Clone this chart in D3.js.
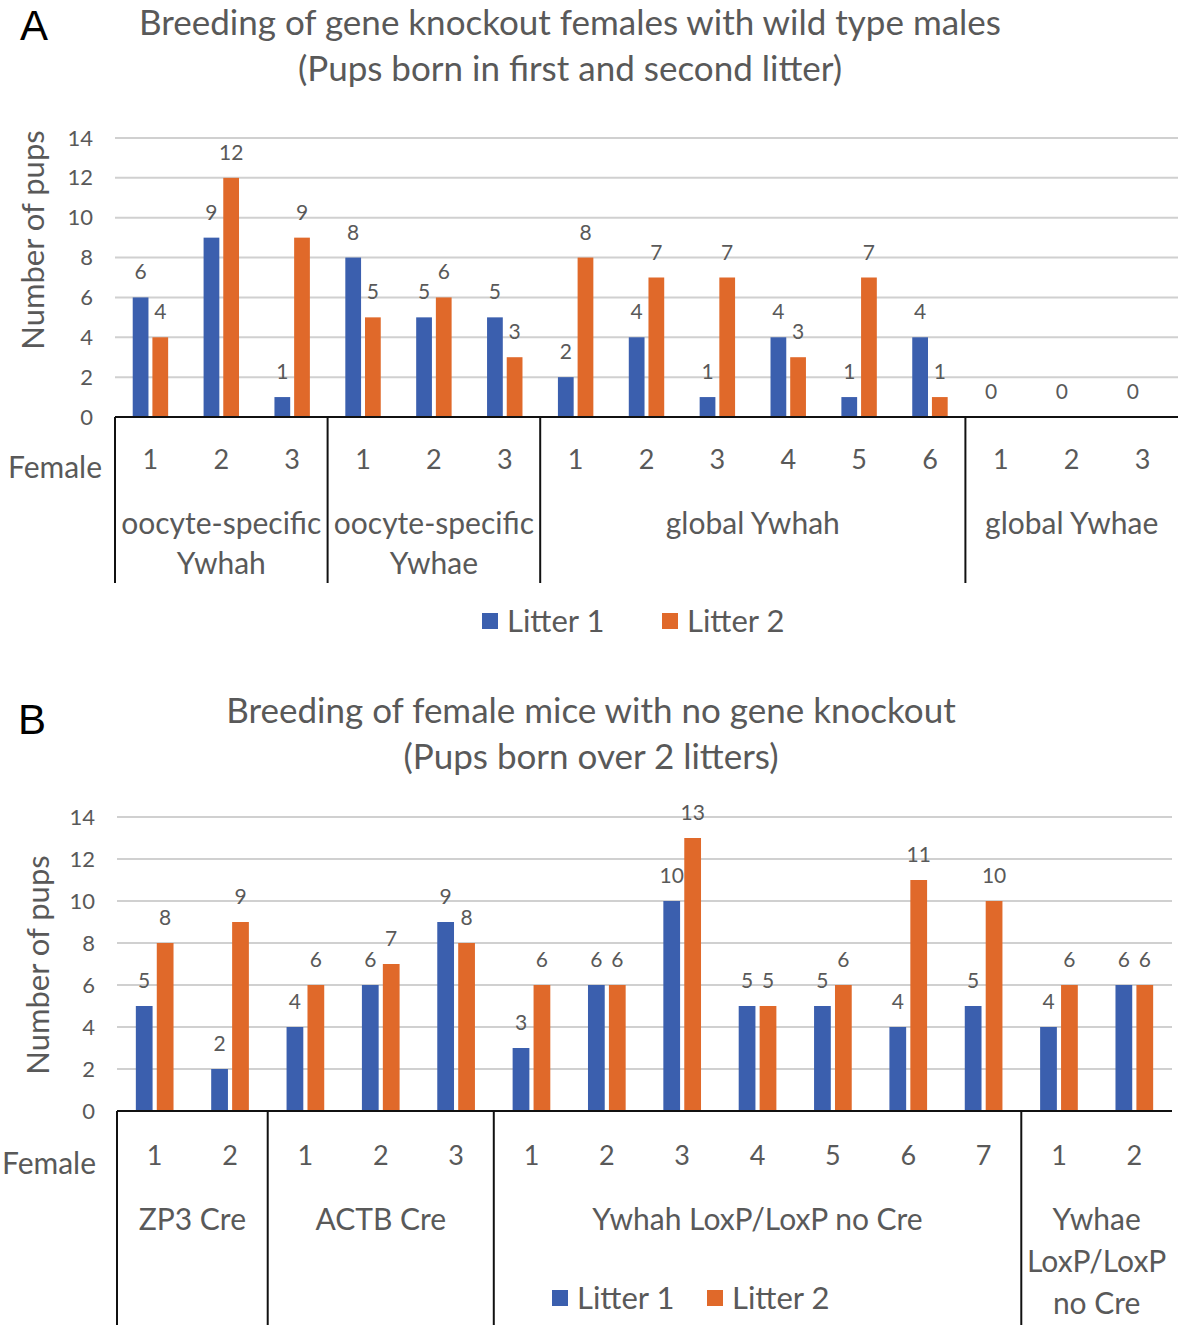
<!DOCTYPE html>
<html>
<head>
<meta charset="utf-8"/>
<title>Breeding of knockout females</title>
<script src="https://cdn.jsdelivr.net/npm/d3@7"></script>
<style>
  body, html {margin:0;padding:0;background:#fff;}
  svg text {font-family: Lato, "Open Sans", sans-serif; fill:#595959;}
</style>
</head>
<body>
<svg id="chart" width="1181" height="1328"></svg>
<script>
// panel A data
var femalesA = ["1","2","3","1","2","3","1","2","3","4","5","6","1","2","3"];
var litter1A = [6, 9, 1, 8, 5, 5, 2, 4, 1, 4, 1, 4, 0, 0, 0];
var litter2A = [4, 12, 9, 5, 6, 3, 8, 7, 7, 3, 7, 1, 0, 0, 0];
var groupsA = [["oocyte-specific","Ywhah"], ["oocyte-specific","Ywhae"], ["global Ywhah"], ["global Ywhae"]];
var groupSizesA = [3, 3, 6, 3];

// panel B data
var femalesB = ["1","2","1","2","3","1","2","3","4","5","6","7","1","2"];
var litter1B = [5, 2, 4, 6, 9, 3, 6, 10, 5, 5, 4, 5, 4, 6];
var litter2B = [8, 9, 6, 7, 8, 6, 6, 13, 5, 6, 11, 10, 6, 6];
var groupsB = [["ZP3 Cre"], ["ACTB Cre"], ["Ywhah LoxP/LoxP no Cre"], ["Ywhae","LoxP/LoxP","no Cre"]];
var groupSizesB = [2, 3, 7, 2];

var yTicks = [0, 2, 4, 6, 8, 10, 12, 14];
var seriesNames = ["Litter 1", "Litter 2"];
var colors = ["#3b5fae", "#e0692a"];

var svg = d3.select("#chart");

function drawPanel(p) {
  var g = svg.append("g");
  var n = p.females.length;

  var x0 = d3.scaleBand().domain(d3.range(n)).range([p.left, p.right]).padding(0);
  var bw = x0.bandwidth();
  var x1 = d3.scaleBand().domain([0, 1]).range([bw * 0.25, bw * 0.75]).paddingInner(0.2);
  var y = d3.scaleLinear().domain([0, 14]).range([p.bottom, p.top]);

  // letter + title
  g.append("text").attr("x", p.letterX).attr("y", p.letterY)
    .style("font-family", "Liberation Sans, Arial, sans-serif")
    .style("fill", "#000").style("font-size", "42px").text(p.letter);
  p.title.forEach(function (t, i) {
    g.append("text").attr("x", p.titleX).attr("y", p.titleY + i * 46)
      .attr("text-anchor", "middle").style("font-size", "35px").text(t);
  });

  // grid lines
  g.append("g").selectAll("line").data(yTicks.slice(1)).join("line")
    .attr("x1", p.left).attr("x2", p.right)
    .attr("y1", d => y(d)).attr("y2", d => y(d))
    .attr("stroke", "#d0d0d0").attr("stroke-width", 2);

  // y axis labels
  var ax = g.append("g").attr("transform", "translate(" + (p.left - 22) + ",0)")
    .call(d3.axisLeft(y).tickValues(yTicks).tickSize(0).tickPadding(0));
  ax.select(".domain").remove();
  ax.selectAll("text").style("font-size", "22px").style("fill", "#595959")
    .style("font-family", "Lato, sans-serif");

  g.append("text")
    .attr("transform", "translate(" + p.yLabelX + "," + p.yLabelY + ") rotate(-90)")
    .attr("text-anchor", "middle").attr("dy", "0.35em")
    .style("font-size", "31px").text("Number of pups");

  // bars
  var series = [p.l1, p.l2];
  series.forEach(function (vals, s) {
    g.append("g").selectAll("rect").data(vals).join("rect")
      .attr("x", (d, i) => x0(i) + x1(s))
      .attr("width", x1.bandwidth())
      .attr("y", d => y(d))
      .attr("height", d => y(0) - y(d))
      .attr("fill", colors[s]);
    g.append("g").selectAll("text").data(vals).join("text")
      .filter(d => !(s === 1 && d === 0))
      .attr("x", (d, i) => x0(i) + x1(s) + x1.bandwidth() / 2)
      .attr("y", d => y(d) - 18)
      .attr("text-anchor", "middle")
      .style("font-size", "21px")
      .text(d => d);
  });

  // x axis line
  g.append("line").attr("x1", p.left).attr("x2", p.right)
    .attr("y1", p.bottom).attr("y2", p.bottom)
    .attr("stroke", "#111").attr("stroke-width", 2);

  // female numbers
  g.append("g").selectAll("text").data(p.females).join("text")
    .attr("x", (d, i) => x0(i) + bw / 2)
    .attr("y", p.numY).attr("dy", "0.35em")
    .attr("text-anchor", "middle").style("font-size", "27px")
    .text(d => d);
  g.append("text").attr("x", p.femaleX).attr("y", p.numY + 7).attr("dy", "0.35em")
    .style("font-size", "30px").text("Female");

  // group separators and labels
  var bounds = [0];
  p.groupSizes.forEach(function (s) { bounds.push(bounds[bounds.length - 1] + s); });
  g.append("g").selectAll("line").data(bounds.slice(0, -1)).join("line")
    .attr("x1", d => x0(d)).attr("x2", d => x0(d))
    .attr("y1", p.bottom).attr("y2", p.sepBottom)
    .attr("stroke", "#111").attr("stroke-width", 2);

  p.groups.forEach(function (lines, gi) {
    var a = bounds[gi], b = bounds[gi + 1];
    var cx = (x0(a) + (b < n ? x0(b) : p.right)) / 2;
    lines.forEach(function (t, li) {
      g.append("text").attr("x", cx).attr("y", p.groupY + li * p.groupDy)
        .attr("dy", "0.35em").attr("text-anchor", "middle")
        .style("font-size", "30px").text(t);
    });
  });

  // legend
  seriesNames.forEach(function (name, s) {
    var lx = p.legendX[s];
    g.append("rect").attr("x", lx).attr("y", p.legendY - 8).attr("width", 16).attr("height", 16)
      .attr("fill", colors[s]);
    g.append("text").attr("x", lx + 25).attr("y", p.legendY).attr("dy", "0.35em")
      .style("font-size", "31px").text(name);
  });
}

drawPanel({
  letter: "A", letterX: 20, letterY: 40,
  title: ["Breeding of gene knockout females with wild type males", "(Pups born in first and second litter)"],
  titleX: 570, titleY: 35,
  females: femalesA, l1: litter1A, l2: litter2A,
  groups: groupsA, groupSizes: groupSizesA,
  left: 115, right: 1178, top: 138, bottom: 417,
  yLabelX: 33, yLabelY: 240, numY: 460, femaleX: 8, groupY: 523, groupDy: 40,
  sepBottom: 583,
  legendX: [482, 662], legendY: 621
});

drawPanel({
  letter: "B", letterX: 18, letterY: 734,
  title: ["Breeding of female mice with no gene knockout", "(Pups born over 2 litters)"],
  titleX: 591, titleY: 723,
  females: femalesB, l1: litter1B, l2: litter2B,
  groups: groupsB, groupSizes: groupSizesB,
  left: 117, right: 1172, top: 817, bottom: 1111,
  yLabelX: 38, yLabelY: 965, numY: 1156, femaleX: 2, groupY: 1219, groupDy: 42,
  sepBottom: 1325,
  legendX: [552, 707], legendY: 1298
});
</script>
</body>
</html>
